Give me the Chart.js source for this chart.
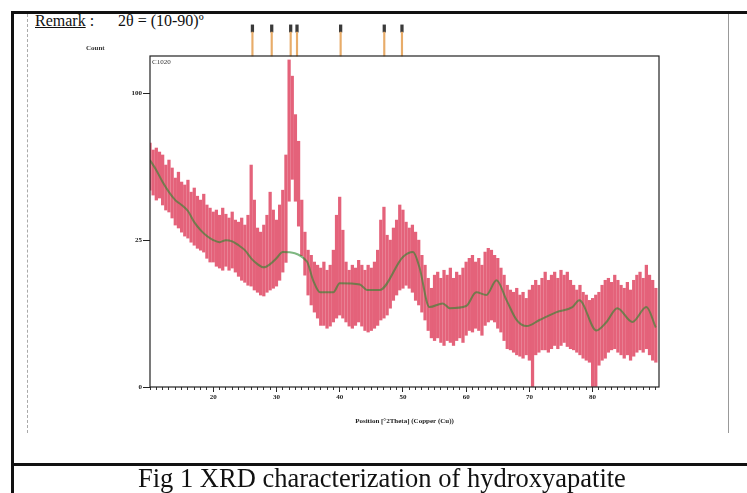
<!DOCTYPE html>
<html>
<head>
<meta charset="utf-8">
<script src="https://cdn.jsdelivr.net/npm/chart.js@4.4.1/dist/chart.umd.min.js"></script>
<style>
  html, body { margin: 0; padding: 0; background: #fff; }
  #page { position: relative; width: 747px; height: 493px; overflow: hidden; font-family: "Liberation Serif", "Times New Roman", serif; color: #111; }
  #c { position: absolute; left: 0; top: 0; }
  .ln { position: absolute; background: #111; }
  .t { position: absolute; white-space: nowrap; }
</style>
</head>
<body>
<div id="page">
  <div class="ln" style="left:11px;top:11px;width:740px;height:3px"></div>
  <div class="ln" style="left:11px;top:11px;width:3px;height:490px"></div>
  <div class="ln" style="left:11px;top:463px;width:740px;height:3px"></div>
  <div style="position:absolute;left:27px;top:14px;height:419px;border-left:1px dashed #aaa"></div>
  <div style="position:absolute;left:728px;top:14px;height:419px;border-left:1px solid #999"></div>

  <div class="t" style="left:35px;top:13px;font-size:16px;line-height:16px"><u>Remark</u> :</div>
  <div class="t" style="left:118px;top:13px;font-size:16px;line-height:16px">2θ = (10-90)º</div>

  <canvas id="c" width="747" height="493"></canvas>

  <div class="t" style="left:86px;top:44px;font-size:7px;font-weight:bold;color:#333">Count</div>
  <div class="t" style="left:152px;top:58px;font-size:7px;color:#333">C1020</div>
  <div class="t" style="left:138px;top:465px;font-size:26.5px;line-height:26px">Fig 1 XRD characterization of hydroxyapatite</div>
</div>

<script>
// 2theta bins (deg), 0.5 step
const twoTheta = [
  10, 10.5, 11, 11.5, 12, 12.5, 13, 13.5, 14, 14.5, 15, 15.5, 16, 16.5, 17, 17.5, 18, 18.5, 19, 19.5,
  20, 20.5, 21, 21.5, 22, 22.5, 23, 23.5, 24, 24.5, 25, 25.5, 26, 26.5, 27, 27.5, 28, 28.5, 29, 29.5,
  30, 30.5, 31, 31.5, 32, 32.5, 33, 33.5, 34, 34.5, 35, 35.5, 36, 36.5, 37, 37.5, 38, 38.5, 39, 39.5,
  40, 40.5, 41, 41.5, 42, 42.5, 43, 43.5, 44, 44.5, 45, 45.5, 46, 46.5, 47, 47.5, 48, 48.5, 49, 49.5,
  50, 50.5, 51, 51.5, 52, 52.5, 53, 53.5, 54, 54.5, 55, 55.5, 56, 56.5, 57, 57.5, 58, 58.5, 59, 59.5,
  60, 60.5, 61, 61.5, 62, 62.5, 63, 63.5, 64, 64.5, 65, 65.5, 66, 66.5, 67, 67.5, 68, 68.5, 69, 69.5,
  70, 70.5, 71, 71.5, 72, 72.5, 73, 73.5, 74, 74.5, 75, 75.5, 76, 76.5, 77, 77.5, 78, 78.5, 79, 79.5,
  80, 80.5, 81, 81.5, 82, 82.5, 83, 83.5, 84, 84.5, 85, 85.5, 86, 86.5, 87, 87.5, 88, 88.5, 89, 89.5,
  90
];
// highest / lowest counts seen in each bin
const hiCounts = [
  69.0, 65.1, 66.2, 64.0, 62.4, 57.1, 59.7, 55.6, 50.6, 53.5, 48.7, 47.3, 49.6, 44.0, 45.9, 42.2, 40.5, 43.1, 38.4, 37.1,
  35.5, 36.3, 34.2, 37.1, 34.6, 33.1, 35.5, 32.3, 31.5, 33.1, 30.4, 34.2, 57.1, 40.5, 29.3, 27.8, 30.4, 34.2, 44.0, 36.3,
  32.3, 38.4, 44.9, 62.4, 124.0, 112.0, 86.0, 70.0, 40.5, 27.8, 21.7, 20.1, 18.1, 17.2, 16.4, 18.1, 15.8, 17.2, 21.7, 34.2,
  41.8, 28.5, 18.1, 15.8, 17.2, 16.4, 18.6, 17.2, 15.8, 17.2, 16.4, 18.1, 21.7, 32.3, 37.5, 26.7, 25.0, 29.3, 32.3, 38.4,
  36.3, 31.5, 29.3, 30.4, 27.8, 25.0, 20.1, 17.2, 13.7, 11.3, 14.5, 15.3, 13.7, 15.8, 14.5, 16.4, 13.7, 15.3, 14.5, 16.4,
  18.1, 19.2, 20.1, 18.1, 19.2, 17.2, 21.1, 22.3, 21.7, 20.1, 19.2, 16.4, 14.5, 12.0, 10.9, 10.4, 11.3, 9.8, 10.4, 9.1,
  10.9, 12.0, 13.2, 12.0, 13.7, 15.3, 13.2, 14.5, 15.3, 13.7, 15.8, 14.5, 15.3, 13.2, 12.0, 10.9, 12.0, 10.4, 9.8, 8.7,
  9.1, 9.8, 10.4, 12.0, 13.2, 13.7, 12.7, 14.5, 13.2, 12.0, 11.3, 12.7, 10.9, 13.2, 14.5, 15.3, 13.7, 17.2, 14.5, 13.2,
  11.3
];
const loCounts = [
  44.9, 42.7, 40.5, 41.4, 38.4, 36.3, 35.5, 33.1, 30.4, 29.3, 27.8, 26.4, 25.7, 24.3, 23.3, 22.3, 21.7, 21.1, 19.2, 18.1,
  18.1, 16.9, 16.4, 15.8, 16.9, 15.8, 16.4, 15.3, 14.2, 13.2, 12.7, 12.0, 11.8, 10.9, 10.4, 9.8, 9.6, 10.4, 10.9, 11.3,
  11.8, 13.2, 15.3, 18.0, 40.0, 50.0, 40.0, 30.0, 20.0, 14.5, 9.8, 7.8, 6.5, 5.5, 4.4, 4.4, 4.0, 4.3, 4.9, 5.5,
  6.0, 5.5, 4.9, 4.3, 4.0, 4.4, 4.9, 4.3, 3.7, 3.5, 3.7, 4.0, 4.4, 5.2, 5.5, 6.0, 7.2, 8.7, 9.8, 10.9,
  11.3, 12.0, 11.3, 10.4, 8.7, 7.8, 6.5, 5.2, 3.7, 2.8, 2.5, 2.8, 2.3, 2.0, 2.5, 2.3, 2.0, 2.5, 2.8, 2.3,
  3.1, 3.7, 3.5, 4.0, 3.7, 3.1, 4.4, 4.9, 5.2, 4.9, 4.0, 3.5, 2.5, 1.7, 1.6, 1.4, 1.2, 1.1, 0.96, 1.2,
  0.83, 0, 1.2, 1.4, 1.6, 1.6, 1.4, 1.7, 2.0, 1.7, 2.0, 2.3, 1.9, 1.7, 1.6, 1.4, 1.2, 0.96, 0.83, 0.71,
  0, 0, 0.55, 0.83, 0.96, 1.4, 1.6, 1.7, 1.4, 1.2, 0.96, 1.2, 0.83, 1.1, 1.4, 1.6, 1.4, 1.7, 1.2, 0.83,
  0.71
];
// fitted background
const bgTheta = [10, 11, 12, 13, 14, 15, 16, 17, 18, 19, 20, 21, 22, 23, 24, 25, 26, 27, 28, 29, 30, 31, 34.8, 35.8, 36.9, 39, 40, 43.2, 44.3, 46.3, 50, 51.6, 52.6, 54.2, 56.3, 57.4, 60, 61.6, 63.2, 64.8, 66.4, 68, 69.6, 71.6, 74.3, 76.8, 77.9, 80.6, 82.2, 83.9, 86.3, 88.5, 90];
const bgCounts = [59.7, 54.5, 48.7, 44.0, 40.5, 38.4, 35.9, 31.5, 28.5, 26.4, 25.0, 24.3, 25.0, 24.6, 23.3, 21.7, 19.2, 17.5, 16.6, 17.5, 19.2, 21.1, 18.3, 13.2, 10.4, 10.4, 12.5, 12.2, 10.9, 10.9, 19.6, 21.1, 16.7, 7.4, 8.1, 7.2, 7.6, 10.4, 9.8, 13.2, 8.7, 5.2, 4.3, 5.2, 6.5, 7.4, 8.7, 3.7, 4.9, 7.2, 4.9, 7.4, 4.1];
// reference pattern sticks shown above the plot
const refPeaks = [26.2, 29.25, 32.25, 33.25, 40.15, 47.05, 49.85];

const xTicks = [20, 30, 40, 50, 60, 70, 80];
const yTicks = [0, 25, 100];
const xMin = 10, xMax = 90.5, yMax = 127;

// square-root intensity axis
class SqrtScale extends Chart.LinearScale {
  getPixelForValue(v) {
    const a = Math.sqrt(this.min), b = Math.sqrt(this.max);
    return this.getPixelForDecimal((Math.sqrt(Math.max(v, 0)) - a) / (b - a));
  }
  getValueForPixel(p) {
    const a = Math.sqrt(this.min), b = Math.sqrt(this.max);
    const s = a + this.getDecimalForPixel(p) * (b - a);
    return s * s;
  }
}
SqrtScale.id = 'sqrt';
SqrtScale.defaults = Chart.LinearScale.defaults;
Chart.register(SqrtScale);

const framePlugin = {
  id: 'frame',
  afterDatasetsDraw(chart) {
    const { ctx, chartArea: a } = chart;
    ctx.save();
    ctx.strokeStyle = '#222'; ctx.lineWidth = 1.2;
    ctx.strokeRect(a.left, a.top, a.right - a.left, a.bottom - a.top);
    ctx.restore();
  }
};

const tickFont = { family: 'Liberation Serif', size: 7, weight: 'bold' };
const noPad = s => { s.paddingTop = 0; s.paddingBottom = 0; s.paddingLeft = 0; s.paddingRight = 0; };

new Chart(document.getElementById('c'), {
  type: 'bar',
  data: {
    datasets: [
      {
        type: 'line', xAxisID: 'x', data: bgTheta.map((x, i) => ({ x, y: bgCounts[i] })),
        borderColor: 'rgba(40,135,45,0.6)', borderWidth: 2, pointRadius: 0,
        cubicInterpolationMode: 'monotone', order: 0
      },
      {
        xAxisID: 'x', data: twoTheta.map((x, i) => ({ x, y: [loCounts[i], hiCounts[i]] })),
        backgroundColor: 'rgb(228,98,122)', barThickness: 2.6, grouped: false, order: 1
      },
      {
        xAxisID: 'x', data: refPeaks.map(x => ({ x, y: [yMax, 146] })),
        backgroundColor: 'rgb(232,172,105)', barThickness: 1.5, grouped: false, clip: false, order: 2
      },
      {
        xAxisID: 'x', data: refPeaks.map(x => ({ x, y: [146, 152] })),
        backgroundColor: '#3a3a3a', barThickness: 2.6, grouped: false, clip: false, order: 2
      }
    ]
  },
  options: {
    responsive: false, animation: false, devicePixelRatio: 1,
    layout: { padding: { top: 56, right: 88, left: 128, bottom: 66 } },
    plugins: { legend: { display: false }, tooltip: { enabled: false } },
    scales: {
      x: {
        type: 'linear', position: 'bottom', min: xMin, max: xMax, weight: 1, offset: false,
        afterBuildTicks: s => { s.ticks = xTicks.map(v => ({ value: v })); },
        ticks: { padding: 1, color: '#222', font: tickFont, maxRotation: 0, autoSkip: false },
        grid: { drawOnChartArea: false, offset: false, tickLength: 5, color: '#222' },
        border: { display: false },
        title: { display: true, text: 'Position [°2Theta] (Copper (Cu))', color: '#222', font: tickFont, padding: { top: 0, bottom: 2 } },
        afterFit: s => { s.height = 40; noPad(s); }
      },
      xMinor: {
        type: 'linear', position: 'bottom', min: xMin, max: xMax, weight: 0, offset: false,
        ticks: { stepSize: 1, includeBounds: false, callback: () => '', font: tickFont },
        grid: { drawOnChartArea: false, offset: false, tickLength: 3, color: '#333' },
        border: { display: false },
        afterFit: s => { s.height = 0; noPad(s); }
      },
      y: {
        type: 'sqrt', min: 0, max: yMax,
        afterBuildTicks: s => { s.ticks = yTicks.map(v => ({ value: v })); },
        ticks: { padding: 1, color: '#222', font: tickFont },
        grid: { drawOnChartArea: false, tickLength: 7, color: '#222' },
        border: { display: false },
        afterFit: s => { s.width = 22; noPad(s); }
      }
    }
  },
  plugins: [framePlugin]
});
</script>
</body>
</html>
